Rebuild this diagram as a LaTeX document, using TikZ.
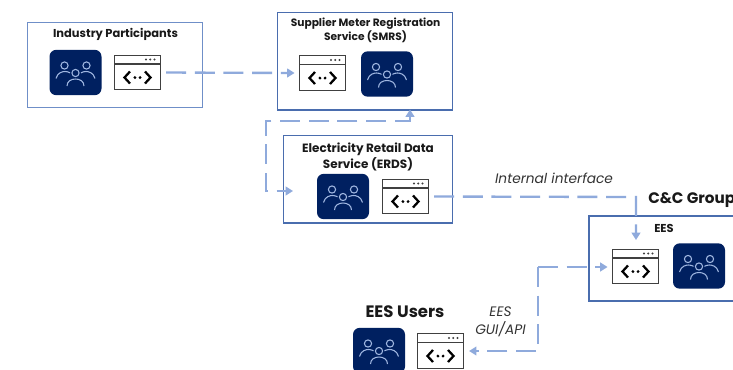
\documentclass[tikz,border=0pt]{standalone}
\usepackage{fontspec}
\setmainfont{Poppins}
\usetikzlibrary{arrows.meta}
\definecolor{navy}{HTML}{002060}
\definecolor{flowblue}{HTML}{8FAADC}
\definecolor{framea}{HTML}{6F8FC8}
\definecolor{frameb}{HTML}{4A6DAE}
\definecolor{inkgrey}{HTML}{404040}
\tikzset{
  x=0.75pt,y=-0.75pt,
  framebox/.style={draw=framea,line width=1pt,fill=white},
  peoplebg/.style={draw=none,fill=navy,rounded corners=5pt,minimum width=39pt,minimum height=34pt,inner sep=0pt},
  winbg/.style={draw=inkgrey,line width=0.9pt,fill=white,minimum width=34pt,minimum height=26pt,inner sep=0pt},
  peopleline/.style={draw=flowblue!85!white,line width=0.8pt,fill=none},
  flow/.style={draw=flowblue,line width=1.75pt,dash pattern=on 15pt off 6.5pt},
  tip/.style={-{Triangle[length=5.5pt,width=6.5pt,fill=flowblue]}},
  bothtips/.style={{Triangle[length=5.5pt,width=6.5pt,fill=flowblue]}-{Triangle[length=5.5pt,width=6.5pt,fill=flowblue]}},
  head/.style={font=\bfseries\fontsize{8.6pt}{12pt}\selectfont,align=center,text=black!90,inner sep=0pt},
  bighead/.style={font=\bfseries\fontsize{11.4pt}{13pt}\selectfont,text=black!90,inner sep=0pt},
  note/.style={font=\itshape\fontsize{10.3pt}{13.5pt}\selectfont,align=center,text=black!80,inner sep=0pt},
}
\newcommand{\peopleicon}[3]{%
  \node[peoplebg] (#1) at (#2,#3) {};
  \begin{scope}[shift={(#2,#3)}]
    \draw[peopleline] (-11,-7) circle[radius=3.6];
    \draw[peopleline] (11,-7) circle[radius=3.6];
    \draw[peopleline] (0,0.5) circle[radius=3.6];
    \draw[peopleline] (-19.5,6) .. controls (-18,0) and (-13,-1) .. (-10.5,-1) .. controls (-9,-1) and (-7,-0.6) .. (-5.5,0.3);
    \draw[peopleline] (19.5,6) .. controls (18,0) and (13,-1) .. (10.5,-1) .. controls (9,-1) and (7,-0.6) .. (5.5,0.3);
    \draw[peopleline] (-8.5,13.5) .. controls (-8.5,8.5) and (-4,6.5) .. (0,6.5) .. controls (4,6.5) and (8.5,8.5) .. (8.5,13.5);
  \end{scope}}
\newcommand{\winicon}[3]{%
  \node[winbg] (#1) at (#2,#3) {};
  \begin{scope}[shift={(#2,#3)}]
    \draw[inkgrey,line width=0.8pt] (-22.5,-8.5) -- (22.5,-8.5);
    \foreach \q in {8.5,12.7,17} {\fill[inkgrey] (\q,-13) circle[radius=1.1];}
    \draw[black,line width=1.7pt] (-7.5,-1) -- (-13,5) -- (-7.5,11);
    \draw[black,line width=1.7pt] (7.5,-1) -- (13,5) -- (7.5,11);
    \fill[black] (-2.6,5) circle[radius=1.6];
    \fill[black] (2.6,5) circle[radius=1.6];
  \end{scope}}
\begin{document}
\begin{tikzpicture}
\useasboundingbox (0,0) rectangle (733,369);
\clip (0,0) rectangle (733,369);
\fill[white] (0,0) rectangle (733,369);
% frames
\draw[framebox] (27.5,22.5) rectangle (202.5,107.5);
\draw[framebox,draw=frameb] (277.5,12.5) rectangle (452.5,110);
\draw[framebox,draw=frameb] (283.5,135.5) rectangle (452.5,223);
\draw[framebox,draw=frameb] (589,216) rectangle (760,301);
% titles
\node[head] (ipt) at (115.5,34) {Industry Participants};
\node[head,font=\bfseries\fontsize{8pt}{11pt}\selectfont] (smt) at (365.5,30.5) {Supplier Meter Registration\\Service (SMRS)};
\node[head,font=\bfseries\fontsize{9pt}{12pt}\selectfont] (ert) at (368,156.5) {Electricity Retail Data\\Service (ERDS)};
\node[head] (eest) at (664,228) {EES};
\node[bighead,anchor=west] (cct) at (648,200) {C\&C Group};
\node[bighead,font=\bfseries\fontsize{12.4pt}{14pt}\selectfont] (ust) at (405,312) {EES Users};
\node[note] (ii) at (554,178.5) {Internal interface};
\node[note] (gui) at (500.5,322) {EES\\GUI/API};
% icons
\peopleicon{ipp}{75.5}{72.5}
\winicon{ipw}{137.5}{72.5}
\winicon{smw}{322.5}{73}
\peopleicon{smp}{387}{74}
\peopleicon{erp}{343}{196.5}
\winicon{erw}{405.5}{196.5}
\winicon{eew}{635.5}{266.5}
\peopleicon{eep}{699}{266}
\peopleicon{usp}{379}{350.5}
\winicon{usw}{440.5}{351}
% connector anchors
\coordinate (c1) at (410,121);
\coordinate (c2) at (266,121);
\coordinate (c3) at (266,191);
\coordinate (c4) at (636,197);
\coordinate (c5) at (538,267);
\coordinate (c6) at (538,351);
\coordinate (smin) at (410,109.5);
\coordinate (erin) at (293,191);
\coordinate (eein) at (636,240);
% connectors
\draw[flow,tip,shorten <=4pt,shorten >=3.5pt] (ipw.east) -- (smw.west);
\draw[flow,bothtips] (smin) -- (c1) -- (c2) -- (c3) -- (erin);
\draw[flow,tip,shorten <=4pt] (erw.east) -- (c4) -- (eein);
\draw[flow,tip,shorten >=3.5pt] (c5) -- (c5 -| eew.west);
\draw[flow,tip,shorten >=4pt] (c5) -- (c6) -- (usw.east |- c6);
\end{tikzpicture}
\end{document}
